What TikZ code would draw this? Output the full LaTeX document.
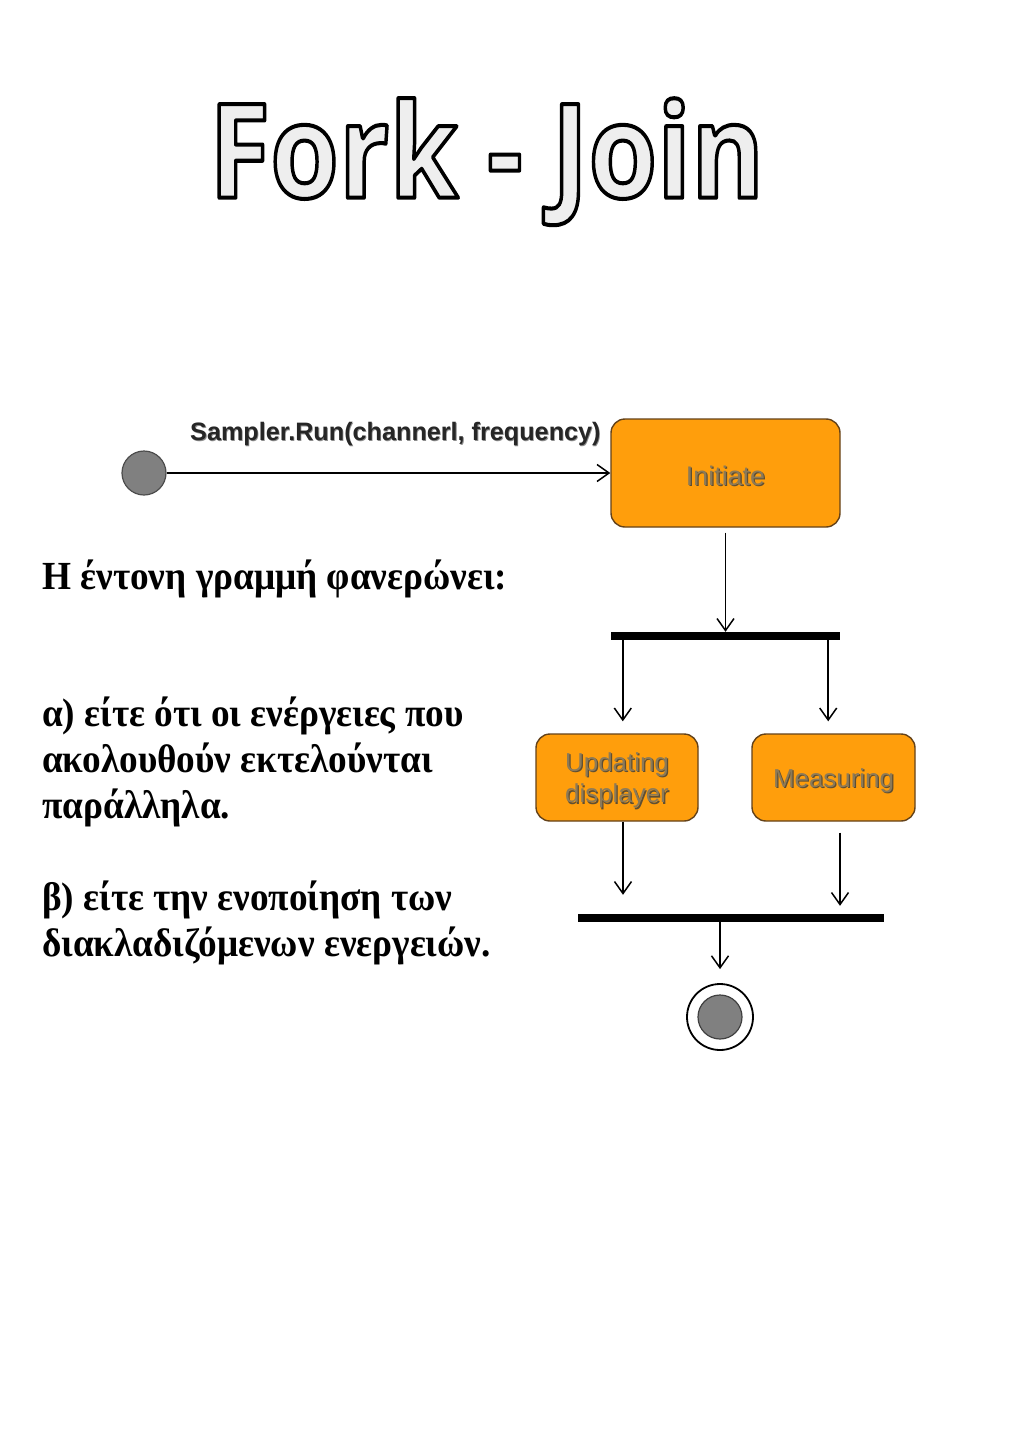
\documentclass[tikz,border=0pt]{standalone}
\usepackage{fontspec}
\usetikzlibrary{arrows.meta,calc}
\setmainfont{Liberation Serif}
\newfontfamily\titlefont{Open Sans}
\newfontfamily\diagfont{Liberation Sans}
\definecolor{boxorange}{RGB}{255,158,12}
\definecolor{boxborder}{RGB}{100,66,25}
\definecolor{boxtxt}{RGB}{140,122,88}
\definecolor{boxshadow}{RGB}{95,78,50}
\definecolor{titlefill}{RGB}{238,238,238}
\definecolor{startgray}{RGB}{128,128,128}
\newcommand\shadowtxt[1]{\raisebox{-3.5bp}[\height][\depth]{\makebox[0pt][l]{\hspace{1.3bp}\raisebox{-1.3bp}{\textcolor{boxshadow}{#1}}}\textcolor{boxtxt}{#1}}}
\newcommand\labelshadow[1]{\makebox[0pt][l]{\hspace{0.8bp}\raisebox{-1.5bp}{\textcolor{black!45}{#1}}}\textcolor{black!85}{#1}}
\newcommand\grk[1]{\scalebox{0.935}[1]{#1}}
\newcommand\outlinetxt[1]{{\color{titlefill}\special{pdf:literal direct q 0 0 0 RG 2 Tr 4.2 w 1 j}#1\special{pdf:literal direct 0 Tr Q}}}
\tikzset{
  actbox/.style={draw=boxborder, line width=1.4bp, fill=boxorange, rounded corners=14bp,
    inner sep=0pt, align=center, font=\diagfont\fontsize{27}{32}\selectfont},
  bar/.style={fill=black, draw=none, inner sep=0pt, minimum height=8bp},
  arr/.style={line width=1.5bp, -{Straight Barb[length=12bp,width=17bp,line width=1.5bp]}},
  greek/.style={anchor=base west, inner sep=0pt, font=\bfseries\fontsize{40}{46}\selectfont},
}
\begin{document}
\begin{tikzpicture}[x=1bp,y=-1bp]
\useasboundingbox (0,0) rectangle (1024,1448);
\fill[white] (0,0) rectangle (1024,1448);
% title
\node[anchor=north west, inner sep=0pt] (title) at (209,98)
  {\resizebox*{555bp}{127bp}{\titlefont\bfseries\fontsize{136}{150}\selectfont\outlinetxt{Fork - Join}}};
% Greek text
\node[greek] (t0) at (42,589) {\grk{Η έντονη γραμμή φανερώνει:}};
\node[greek] (t1) at (42,726) {\grk{α) είτε ότι οι ενέργειες που}};
\node[greek] (t2) at (42,772) {\grk{ακολουθούν εκτελούνται}};
\node[greek] (t3) at (42,818) {\grk{παράλληλα.}};
\node[greek] (t4) at (42,910) {\grk{β) είτε την ενοποίηση των}};
\node[greek] (t5) at (42,956) {\grk{διακλαδιζόμενων ενεργειών.}};
% diagram
\node[circle, fill=startgray, draw=black!70, line width=1.2bp, minimum size=44bp, inner sep=0pt] (start) at (144,473) {};
\node[actbox, minimum width=229bp, minimum height=108bp] (init) at (725.5,473) {\shadowtxt{Initiate}};
\node[anchor=base west, inner sep=0pt, font=\diagfont\bfseries\fontsize{25.3}{28}\selectfont] (lbl) at (190,440) {\labelshadow{Sampler.Run(channerl, frequency)}};
\draw[arr] (start) -- (init.west);
\node[bar, minimum width=229bp] (fork) at (725.5,636) {};
\draw[arr, shorten <=5bp] (init.south) -- (init.south |- fork.north);
\node[actbox, minimum width=162bp, minimum height=87bp, font=\diagfont\fontsize{26}{32}\selectfont] (upd) at (617,777.5) {\shadowtxt{Updating}\\\shadowtxt{displayer}};
\node[actbox, minimum width=163bp, minimum height=87bp, font=\diagfont\fontsize{26}{32}\selectfont] (meas) at (833.5,777.5) {\shadowtxt{Measuring}};
\coordinate (fa) at ($(fork.south west)+(12,0)$);
\coordinate (fb) at ($(fork.south east)+(-12,0)$);
\draw[arr, shorten >=12bp] (fa) -- (fa |- upd.north);
\draw[arr, shorten >=12bp] (fb) -- (fb |- meas.north);
\node[bar, minimum width=306bp] (join) at (731,918) {};
\coordinate (ua) at ($(upd.south)+(6,0)$);
\coordinate (mb) at ($(meas.south)+(6.5,0)$);
\draw[arr, shorten >=19bp] (ua) -- (ua |- join.north);
\draw[arr, shorten <=11bp, shorten >=8bp] (mb) -- (mb |- join.north);
\node[circle, draw=black, line width=1.8bp, fill=white, minimum size=66bp, inner sep=0pt] (final) at (720,1017) {};
\node[circle, draw=black!75, line width=1.2bp, fill=startgray, minimum size=44bp, inner sep=0pt] (finalin) at (final.center) {};
\draw[arr, shorten >=14bp] (join.south -| final.north) -- (final.north);
\end{tikzpicture}
\end{document}
